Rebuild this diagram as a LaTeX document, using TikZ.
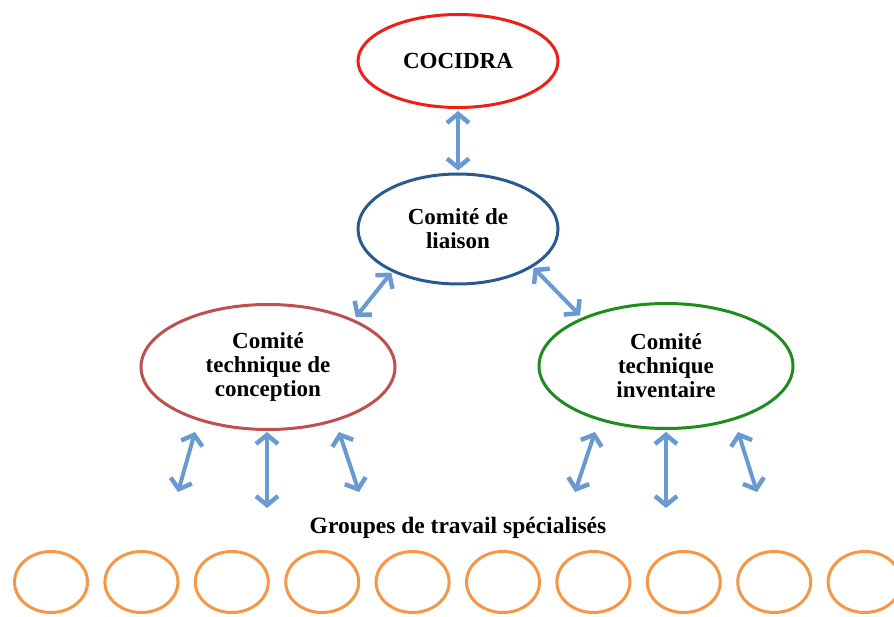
\documentclass[tikz,border=0pt]{standalone}
\usepackage{fontspec}
\setmainfont{Liberation Serif}
\usetikzlibrary{shapes.geometric,arrows.meta}
\definecolor{cred}{RGB}{240,30,20}
\definecolor{cblue}{RGB}{40,90,145}
\definecolor{cconc}{RGB}{192,80,77}
\definecolor{cgreen}{RGB}{30,140,30}
\definecolor{corange}{RGB}{247,150,70}
\definecolor{carrow}{RGB}{105,155,210}
\tikzset{
  ell/.style={ellipse, draw, line width=3pt, inner sep=0pt, align=center,
    font=\fontsize{23}{24}\selectfont\bfseries},
  grp/.style={ellipse, draw=corange, line width=3pt, minimum width=73pt, minimum height=61pt, inner sep=0pt},
  tipb/.tip={Straight Barb[length=9pt,width=22pt,line width=4.5pt]},
  link/.style={draw=carrow, line width=4pt, tipb-tipb},
  lbl/.style={font=\fontsize{23.5}{24}\selectfont\bfseries}
}
\begin{document}
\begin{tikzpicture}[x=1pt,y=-1pt]
\useasboundingbox (0,0) rectangle (894,617);
\node[ell, draw=cred, minimum width=200pt, minimum height=93pt] (cocidra) at (458,61) {COCIDRA};
\node[ell, draw=cblue, minimum width=200pt, minimum height=110pt] (liaison) at (458,229) {Comité de\\liaison};
\node[ell, draw=cconc, minimum width=254pt, minimum height=125pt] (conc) at (268,367) {Comité\\technique de\\conception};
\node[ell, draw=cgreen, minimum width=254pt, minimum height=125pt] (inv) at (666,366) {Comité\\technique\\inventaire};
\node[lbl] (groupes) at (458,528) {Groupes de travail spécialisés};
\foreach \i in {0,...,9} {
  \node[grp] (g\i) at ({51+90.4*\i},582) {};
}
% arrows between committees
\draw[link, shorten <=2pt, shorten >=2pt] (cocidra.south) -- (liaison.north);
\draw[link, shorten <=1pt, shorten >=3pt] (liaison.213.5) -- (conc.29);
\draw[link, shorten <=1pt, shorten >=3pt] (liaison.333.4) -- (inv.150.7);
% free ends of the arrows to the working groups
\coordinate (a1t) at (195,432); \coordinate (a1b) at (178,492);
\coordinate (a2t) at (267,432); \coordinate (a2b) at (267,508);
\coordinate (a3t) at (339,432); \coordinate (a3b) at (359,492);
\coordinate (b1t) at (595,432); \coordinate (b1b) at (575,492);
\coordinate (b2t) at (666,432); \coordinate (b2b) at (666,508);
\coordinate (b3t) at (738,432); \coordinate (b3b) at (757,492);
\foreach \p in {a1,a2,a3,b1,b2,b3} {
  \draw[link] (\p t) -- (\p b);
}
\end{tikzpicture}
\end{document}
